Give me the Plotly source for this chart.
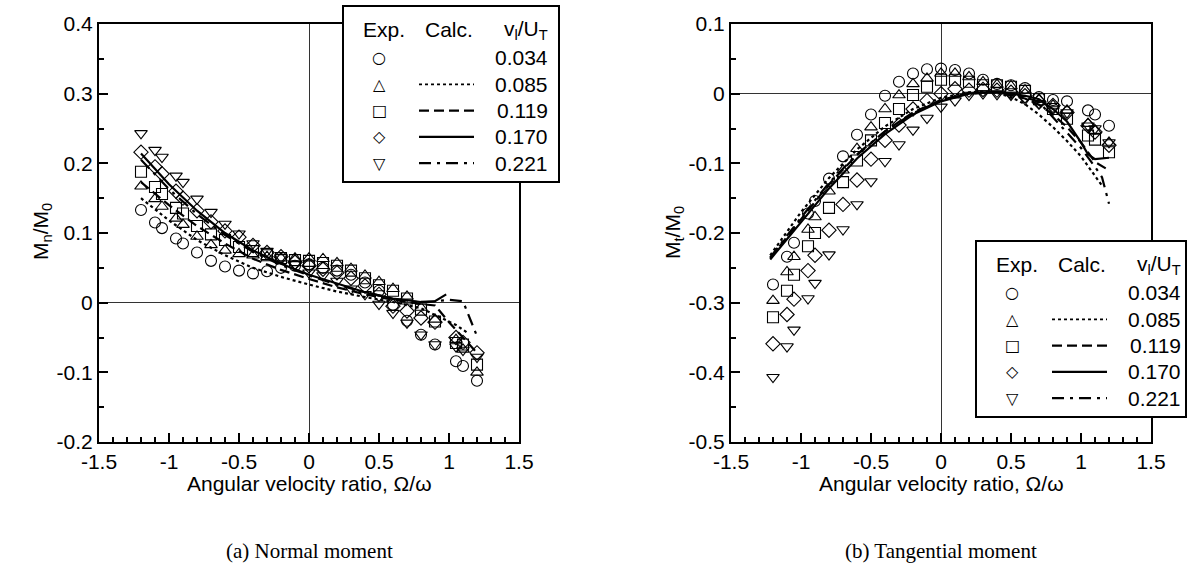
import plotly.graph_objects as go

# ---------------- data ----------------
X_EXP = [-1.2, -1.1, -1.05, -0.95, -0.9, -0.8, -0.7, -0.6, -0.5, -0.4, -0.3, -0.2, -0.1,
         0.0, 0.1, 0.2, 0.3, 0.4, 0.5, 0.6, 0.7, 0.8, 0.9, 1.05, 1.1, 1.2]

RATIOS = ["0.034", "0.085", "0.119", "0.170", "0.221"]

# Normal moment, experiment
MN_034 = [0.133, 0.115, 0.107, 0.092, 0.085, 0.072, 0.060, 0.052, 0.046, 0.042, 0.045, 0.050, 0.053,
          0.055, 0.050, 0.046, 0.040, 0.029, 0.017, -0.003, -0.026, -0.046, -0.060, -0.084, -0.091, -0.112]
MN_085 = [0.167, 0.149, 0.138, 0.121, 0.112, 0.095, 0.083, 0.075, 0.070, 0.068, 0.066, 0.064, 0.064,
          0.064, 0.063, 0.057, 0.049, 0.039, 0.030, 0.020, 0.009, -0.007, -0.024, -0.053, -0.067, -0.100]
MN_119 = [0.188, 0.166, 0.156, 0.136, 0.128, 0.110, 0.098, 0.090, 0.080, 0.074, 0.068, 0.064, 0.061,
          0.060, 0.057, 0.053, 0.046, 0.035, 0.025, 0.017, 0.006, -0.010, -0.027, -0.058, -0.060, -0.089]
MN_170 = [0.216, 0.195, 0.185, 0.160, 0.150, 0.132, 0.116, 0.103, 0.094, 0.082, 0.072, 0.066, 0.058,
          0.053, 0.048, 0.043, 0.035, 0.024, 0.012, -0.005, -0.012, -0.022, -0.028, -0.050, -0.057, -0.072]
MN_221 = [0.243, 0.219, 0.209, 0.182, 0.173, 0.149, 0.130, 0.113, 0.099, 0.085, 0.074, 0.065, 0.055,
          0.043, 0.039, 0.031, 0.020, 0.012, -0.002, -0.015, -0.029, -0.046, -0.060, -0.063, -0.068, -0.078]

# Tangential moment, experiment
MT_034 = [-0.274, -0.234, -0.214, -0.172, -0.154, -0.122, -0.090, -0.059, -0.030, -0.003, 0.017, 0.029, 0.035,
          0.036, 0.034, 0.029, 0.020, 0.014, 0.012, 0.008, -0.005, -0.009, -0.011, -0.024, -0.030, -0.046]
MT_085 = [-0.297, -0.256, -0.234, -0.195, -0.177, -0.140, -0.110, -0.079, -0.048, -0.022, -0.002, 0.014, 0.022,
          0.029, 0.029, 0.024, 0.017, 0.013, 0.011, 0.005, -0.008, -0.017, -0.024, -0.043, -0.053, -0.070]
MT_119 = [-0.321, -0.283, -0.260, -0.219, -0.200, -0.164, -0.127, -0.096, -0.067, -0.042, -0.022, -0.002, 0.010,
          0.020, 0.020, 0.017, 0.012, 0.012, 0.010, 0.004, -0.008, -0.022, -0.036, -0.060, -0.066, -0.084]
MT_170 = [-0.359, -0.317, -0.295, -0.254, -0.232, -0.196, -0.159, -0.124, -0.094, -0.067, -0.045, -0.022, -0.010,
          0.000, 0.007, 0.005, 0.006, 0.005, 0.002, -0.003, -0.012, -0.017, -0.027, -0.046, -0.055, -0.074]
MT_221 = [-0.407, -0.363, -0.339, -0.294, -0.272, -0.231, -0.195, -0.159, -0.126, -0.097, -0.073, -0.052, -0.035,
          -0.019, -0.010, -0.002, 0.000, -0.001, -0.002, -0.008, -0.014, -0.022, -0.027, -0.046, -0.050, -0.070]

# Normal moment, calculation
CN_X_085 = [-1.2, -1.0, -0.8, -0.6, -0.4, -0.2, 0.0, 0.2, 0.4, 0.6, 0.8, 0.95, 1.05, 1.13]
CN_085 = [0.150, 0.118, 0.090, 0.068, 0.050, 0.037, 0.026, 0.016, 0.008, 0.001, -0.008, -0.022, -0.032, -0.043]
CN_X_119 = [-1.2, -1.0, -0.8, -0.6, -0.4, -0.2, 0.0, 0.2, 0.4, 0.6, 0.8, 0.9, 1.0, 1.1, 1.2]
CN_119 = [0.173, 0.140, 0.110, 0.085, 0.063, 0.047, 0.034, 0.022, 0.012, 0.004, -0.002, -0.004, -0.028, -0.050, -0.072]
CN_X_170 = [-1.2, -1.0, -0.8, -0.6, -0.4, -0.2, 0.0, 0.2, 0.4, 0.6, 0.8, 0.9, 0.98]
CN_170 = [0.214, 0.170, 0.132, 0.100, 0.075, 0.056, 0.040, 0.027, 0.015, 0.006, 0.001, 0.002, 0.012]
CN_X_221 = [-1.2, -1.0, -0.8, -0.6, -0.4, -0.2, 0.0, 0.2, 0.4, 0.6, 0.8, 1.0, 1.1, 1.2]
CN_221 = [0.205, 0.163, 0.127, 0.097, 0.073, 0.054, 0.039, 0.026, 0.015, 0.006, 0.000, 0.004, 0.002, -0.048]

# Tangential moment, calculation
CT_X_085 = [-1.22, -1.0, -0.8, -0.6, -0.4, -0.2, 0.0, 0.2, 0.3, 0.4, 0.5, 0.6, 0.7, 0.8, 0.9, 1.0, 1.1, 1.15]
CT_085 = [-0.232, -0.170, -0.121, -0.080, -0.047, -0.022, -0.006, 0.002, 0.003, 0.001, -0.005, -0.015,
          -0.030, -0.048, -0.068, -0.090, -0.118, -0.132]
CT_X_119 = [-1.22, -1.0, -0.8, -0.6, -0.4, -0.2, 0.0, 0.2, 0.4, 0.6, 0.7, 0.8, 0.9, 1.0, 1.1, 1.2]
CT_119 = [-0.236, -0.180, -0.130, -0.088, -0.054, -0.027, -0.009, 0.001, 0.002, -0.007, -0.016, -0.030,
          -0.048, -0.070, -0.098, -0.110]
CT_X_170 = [-1.22, -1.0, -0.8, -0.6, -0.4, -0.2, 0.0, 0.2, 0.4, 0.6, 0.7, 0.8, 0.9, 1.0, 1.05, 1.1, 1.2]
CT_170 = [-0.238, -0.185, -0.136, -0.093, -0.058, -0.030, -0.011, 0.000, 0.003, -0.003, -0.008, -0.022,
          -0.040, -0.070, -0.087, -0.094, -0.092]
CT_X_221 = [-1.22, -1.0, -0.8, -0.6, -0.4, -0.2, 0.0, 0.2, 0.4, 0.6, 0.7, 0.8, 0.9, 1.0, 1.1, 1.15, 1.2]
CT_221 = [-0.235, -0.178, -0.128, -0.087, -0.054, -0.028, -0.010, 0.000, 0.002, -0.005, -0.012, -0.034,
          -0.055, -0.078, -0.105, -0.120, -0.158]

# Tick labels
X_TICKS = [-1.5, -1.0, -0.5, 0.0, 0.5, 1.0, 1.5]
X_TICKTEXT = ["-1.5", "-1", "-0.5", "0", "0.5", "1", "1.5"]
YN_TICKS = [-0.2, -0.1, 0.0, 0.1, 0.2, 0.3, 0.4]
YN_TICKTEXT = ["-0.2", "-0.1", "0", "0.1", "0.2", "0.3", "0.4"]
YT_TICKS = [-0.5, -0.4, -0.3, -0.2, -0.1, 0.0, 0.1]
YT_TICKTEXT = ["-0.5", "-0.4", "-0.3", "-0.2", "-0.1", "0", "0.1"]

# ---------------- styling ----------------
W, H = 1188, 579
SANS = "Liberation Sans, Arial, sans-serif"
SERIF = "Liberation Serif, Times New Roman, serif"
SYMBOLS = ["circle-open", "triangle-up-open", "square-open", "diamond-open", "triangle-down-open"]
GLYPHS = ["○", "△", "□", "◇", "▽"]
DASHES = ["dot", "10px,5px", "solid", "12px,6px,3px,6px"]
FS = 21

fig = go.Figure()

exp_n = [MN_034, MN_085, MN_119, MN_170, MN_221]
exp_t = [MT_034, MT_085, MT_119, MT_170, MT_221]
calc_n = [(CN_X_085, CN_085), (CN_X_119, CN_119), (CN_X_170, CN_170), (CN_X_221, CN_221)]
calc_t = [(CT_X_085, CT_085), (CT_X_119, CT_119), (CT_X_170, CT_170), (CT_X_221, CT_221)]

for (xs, ys), dash in zip(calc_n, DASHES):
    fig.add_trace(go.Scatter(x=xs, y=ys, mode="lines", xaxis="x", yaxis="y",
                             line=dict(color="black", width=2.2, dash=dash), showlegend=False))
for (xs, ys), dash in zip(calc_t, DASHES):
    fig.add_trace(go.Scatter(x=xs, y=ys, mode="lines", xaxis="x2", yaxis="y2",
                             line=dict(color="black", width=2.2, dash=dash), showlegend=False))
for ys, sym in zip(exp_n, SYMBOLS):
    fig.add_trace(go.Scatter(x=X_EXP, y=ys, mode="markers", xaxis="x", yaxis="y",
                             marker=dict(symbol=sym, size=11, color="black", line=dict(width=1.1)),
                             showlegend=False))
for ys, sym in zip(exp_t, SYMBOLS):
    fig.add_trace(go.Scatter(x=X_EXP, y=ys, mode="markers", xaxis="x2", yaxis="y2",
                             marker=dict(symbol=sym, size=11, color="black", line=dict(width=1.1)),
                             showlegend=False))

Y_DOM = [1 - 442 / H, 1 - 24 / H]
LX = [99 / W, 519 / W]
RX = [731 / W, 1151 / W]

def xax(domain, anchor):
    return dict(domain=domain, anchor=anchor, range=[-1.5, 1.5], automargin=False,
                tickvals=X_TICKS, ticktext=X_TICKTEXT,
                ticks="inside", ticklen=9, tickwidth=2, tickcolor="black",
                minor=dict(dtick=0.1, tick0=0, ticks="inside", ticklen=5, tickwidth=1.5, tickcolor="black"),
                showline=True, linewidth=2, linecolor="black", mirror=True,
                showgrid=False, zeroline=True, zerolinecolor="#333", zerolinewidth=1,
                tickfont=dict(family=SANS, size=FS, color="black"))

def yax(domain, anchor, rng, tv, tt):
    return dict(domain=domain, anchor=anchor, range=rng, tickvals=tv, ticktext=tt, automargin=False,
                ticks="inside", ticklen=9, tickwidth=2, tickcolor="black",
                minor=dict(dtick=0.05, tick0=0, ticks="inside", ticklen=5, tickwidth=1.5, tickcolor="black"),
                showline=True, linewidth=2, linecolor="black", mirror=True,
                showgrid=False, zeroline=True, zerolinecolor="#333", zerolinewidth=1,
                tickfont=dict(family=SANS, size=FS, color="black"))

annotations = []
shapes = []

# axis titles and captions
for xd, ytitle, cap in [(LX, "M<sub>n</sub>/M<sub>0</sub>", "(a) Normal moment"),
                        (RX, "M<sub>t</sub>/M<sub>0</sub>", "(b) Tangential moment")]:
    cx = (xd[0] + xd[1]) / 2
    annotations.append(dict(x=cx, y=1 - 483 / H, xref="paper", yref="paper", showarrow=False,
                            text="Angular velocity ratio, Ω/ω", xanchor="center", yanchor="middle",
                            font=dict(family=SANS, size=FS, color="black")))
    annotations.append(dict(x=cx, y=1 - 551 / H, xref="paper", yref="paper", showarrow=False,
                            text=cap, xanchor="center", yanchor="middle",
                            font=dict(family=SERIF, size=21, color="black")))
    annotations.append(dict(x=xd[0] - 57 / W, y=1 - 232 / H, xref="paper", yref="paper", showarrow=False,
                            text=ytitle, textangle=-90, xanchor="center", yanchor="middle",
                            font=dict(family=SANS, size=FS, color="black")))

# legends (drawn as boxes with text, in pixel positions)
def add_legend(left, top, width, height):
    def px(x):
        return x / W
    def py(y):
        return 1 - y / H
    shapes.append(dict(type="rect", xref="paper", yref="paper", x0=px(left), x1=px(left + width),
                       y0=py(top + height), y1=py(top), line=dict(color="black", width=2),
                       fillcolor="white", layer="above"))
    hy = top + 24
    annotations.append(dict(x=px(left + 41), y=py(hy), xref="paper", yref="paper", showarrow=False,
                            text="Exp.", xanchor="center", yanchor="middle",
                            font=dict(family=SANS, size=FS, color="black")))
    annotations.append(dict(x=px(left + 106), y=py(hy), xref="paper", yref="paper", showarrow=False,
                            text="Calc.", xanchor="center", yanchor="middle",
                            font=dict(family=SANS, size=FS, color="black")))
    annotations.append(dict(x=px(left + 207), y=py(hy), xref="paper", yref="paper", showarrow=False,
                            text="v<sub>l</sub>/U<sub>T</sub>", xanchor="right", yanchor="middle",
                            font=dict(family=SANS, size=FS, color="black")))
    for i, (g, lab) in enumerate(zip(GLYPHS, RATIOS)):
        ry = top + 52 + i * 26.3
        annotations.append(dict(x=px(left + 36), y=py(ry), xref="paper", yref="paper", showarrow=False,
                                text=g, xanchor="center", yanchor="middle",
                                font=dict(family="DejaVu Sans", size=16, color="black")))
        annotations.append(dict(x=px(left + 207), y=py(ry), xref="paper", yref="paper", showarrow=False,
                                text=lab, xanchor="right", yanchor="middle",
                                font=dict(family=SANS, size=FS, color="black")))
        if i >= 1:
            shapes.append(dict(type="line", xref="paper", yref="paper", x0=px(left + 76), x1=px(left + 131),
                               y0=py(ry), y1=py(ry),
                               line=dict(color="black", width=2.2 if i != 1 else 1.8, dash=DASHES[i - 1]),
                               layer="above"))

add_legend(343, 6, 216, 176)
add_legend(976, 241, 210, 176)

fig.update_layout(
    width=W, height=H, margin=dict(l=0, r=0, t=0, b=0, autoexpand=False),
    paper_bgcolor="white", plot_bgcolor="white", showlegend=False,
    xaxis=xax(LX, "y"), yaxis=yax(Y_DOM, "x", [-0.2, 0.4], YN_TICKS, YN_TICKTEXT),
    xaxis2=xax(RX, "y2"), yaxis2=yax(Y_DOM, "x2", [-0.5, 0.1], YT_TICKS, YT_TICKTEXT),
    annotations=annotations, shapes=shapes,
)

fig.write_html("out.html", config={"displayModeBar": False},
               post_script="document.body.style.margin='0';")
